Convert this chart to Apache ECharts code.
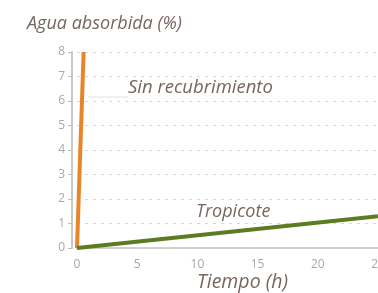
<!DOCTYPE html>
<html>
<head>
<meta charset="utf-8">
<script src="https://cdn.jsdelivr.net/npm/echarts@6/dist/echarts.min.js"></script>
<style>
  html, body { margin: 0; padding: 0; background: #fff; }
  #chart { width: 378px; height: 293px; }
</style>
</head>
<body>
<div id="chart"></div>
<script>
// datos
const tiempo = [0, 5, 10, 15, 20, 25];
const sinRecubrimiento = [[0, 0], [0.55, 8]];
const tropicote = [[0, 0], [25, 1.3]];
const yTicks = [0, 1, 2, 3, 4, 5, 6, 7, 8];

const textColor = '#76665e';

const chart = echarts.init(document.getElementById('chart'));

function label(text, x, y, size) {
    return {
        type: 'text', x: x, y: y,
        style: { text: text, fill: textColor, font: 'italic ' + size + 'px "Open Sans"', verticalAlign: 'top' }
    };
}

const option = {
    backgroundColor: '#fff',
    animation: false,
    grid: { left: 77, right: 0, top: 52, bottom: 45, outerBoundsMode: 'none' },
    xAxis: {
        type: 'value',
        min: tiempo[0],
        max: tiempo[tiempo.length - 1],
        interval: 5,
        axisLine: { lineStyle: { color: '#d0d0d0', width: 2 } },
        axisTick: { show: false },
        axisLabel: { color: '#a8a8a8', fontSize: 12, margin: 11, fontFamily: 'Open Sans' },
        splitLine: { show: false }
    },
    yAxis: {
        type: 'value',
        min: yTicks[0],
        max: yTicks[yTicks.length - 1],
        interval: 1,
        offset: 5,
        axisLine: { show: true, onZero: false, lineStyle: { color: '#c8c8c8', width: 2 } },
        axisTick: { show: true, length: 4, lineStyle: { color: '#bbb' } },
        axisLabel: { color: '#a8a8a8', fontSize: 12, margin: 7, fontFamily: 'Open Sans' },
        splitLine: { show: true, lineStyle: { color: '#d3d9e2', type: [3, 5], width: 1 } }
    },
    series: [
        {
            name: 'Sin recubrimiento',
            type: 'line',
            data: sinRecubrimiento,
            showSymbol: false,
            lineStyle: { color: '#e8852b', width: 4 },
            z: 3
        },
        {
            name: 'Tropicote',
            type: 'line',
            data: tropicote,
            showSymbol: false,
            lineStyle: { color: '#5b7d1f', width: 4 },
            z: 4
        }
    ],
    graphic: [
        label('Agua absorbida (%)', 27, 15, 18),
        {
            type: 'line',
            shape: { x1: 88, y1: 97, x2: 128, y2: 97 },
            style: { stroke: '#e2e2e2', lineWidth: 1 }
        },
        label('Sin recubrimiento', 128, 78, 18.5),
        label('Tropicote', 196, 203, 18),
        label('Tiempo (h)', 197, 272, 19.5)
    ]
};

chart.setOption(option);
</script>
</body>
</html>
